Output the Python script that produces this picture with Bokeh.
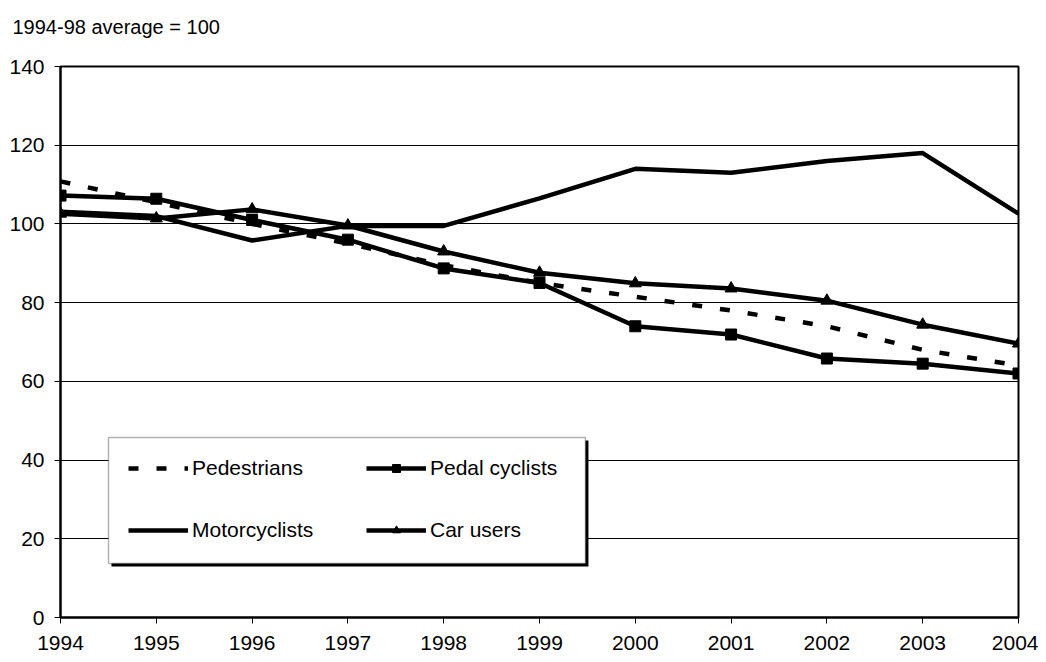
from bokeh.plotting import figure
from bokeh.models import Range1d, Legend, LegendItem, BoxAnnotation, Title, FixedTicker
from bokeh.embed import file_html
from bokeh.resources import INLINE

years = [1994, 1995, 1996, 1997, 1998, 1999, 2000, 2001, 2002, 2003, 2004]
pedestrians = [110.8, 105.5, 100.0, 95.0, 89.5, 85.0, 81.5, 78.0, 74.0, 68.0, 64.0]
pedal_cyclists = [107.2, 106.4, 101.0, 96.0, 88.7, 85.0, 74.0, 71.9, 65.8, 64.5, 62.0]
motorcyclists = [103.1, 102.0, 95.8, 99.5, 99.5, 106.5, 114.0, 113.0, 116.0, 118.0, 102.6]
car_users = [102.6, 101.4, 103.7, 99.6, 93.0, 87.6, 84.9, 83.6, 80.5, 74.4, 69.6]
y_ticks = [0, 20, 40, 60, 80, 100, 120, 140]
subtitle = "1994-98 average = 100"

FONT = "Liberation Sans"
FS = "21px"

p = figure(width=1038, height=654, output_backend="svg", toolbar_location=None,
           x_range=Range1d(1994, 2004), y_range=Range1d(0, 140),
           min_border_left=60, min_border_right=20, min_border_top=66, min_border_bottom=37)

p.title = None
# trailing blank line lifts the subtitle away from the plot frame
p.add_layout(Title(text=subtitle + "\n ", align="left", offset=-48,
                   text_font=FONT, text_font_size="20px", text_font_style="normal",
                   text_color="black", standoff=14), "above")

p.outline_line_color = "black"
p.outline_line_width = 2
p.background_fill_color = "white"
p.border_fill_color = "white"

p.xgrid.grid_line_color = None
p.ygrid.grid_line_color = "black"
p.ygrid.grid_line_width = 1
p.ygrid.ticker = FixedTicker(ticks=y_ticks)

for ax in (p.xaxis[0], p.yaxis[0]):
    ax.axis_line_color = "black"
    ax.axis_line_width = 2
    ax.major_tick_line_color = "black"
    ax.major_tick_line_width = 1
    ax.major_tick_in = 0
    ax.major_tick_out = 6
    ax.minor_tick_line_color = None
    ax.major_label_text_font = FONT
    ax.major_label_text_font_size = FS
    ax.major_label_text_color = "black"

p.xaxis[0].ticker = FixedTicker(ticks=years)
p.xaxis[0].major_label_standoff = 12
p.yaxis[0].ticker = FixedTicker(ticks=y_ticks)
p.yaxis[0].major_label_standoff = 10

# legend box (shadow + frame)
shadow = BoxAnnotation(left=1994.532, right=1999.511, top=44.97, bottom=12.96,
                       fill_color="black", fill_alpha=1, line_color=None)
box = BoxAnnotation(left=1994.501, right=1999.480, top=45.73, bottom=13.72,
                    fill_color="white", fill_alpha=1, line_color="black", line_width=1.5)
p.add_layout(shadow)
p.add_layout(box)

W = 4.5
r_ped = p.line(years, pedestrians, line_color="black", line_width=W, line_dash="10 18")
r_cyc = p.line(years, pedal_cyclists, line_color="black", line_width=W)
r_cyc_m = p.scatter(years, pedal_cyclists, marker="square", size=11, color="black")
r_mot = p.line(years, motorcyclists, line_color="black", line_width=W)
r_car = p.line(years, car_users, line_color="black", line_width=W)
r_car_m = p.scatter(years, car_users, marker="triangle", size=12, color="black")

legend = Legend(items=[
    LegendItem(label="Pedestrians", renderers=[r_ped]),
    LegendItem(label="Motorcyclists", renderers=[r_mot]),
    LegendItem(label="Pedal cyclists", renderers=[r_cyc, r_cyc_m]),
    LegendItem(label="Car users", renderers=[r_car, r_car_m]),
], ncols=2, location=(68, 75), padding=0, margin=0, spacing=38,
   glyph_width=60, glyph_height=20, label_width=136, label_height=20, label_standoff=4,
   label_text_font=FONT, label_text_font_size=FS, label_text_color="black",
   border_line_color=None, background_fill_alpha=0)
p.add_layout(legend)

open("out.html", "w").write(file_html(p, INLINE))
